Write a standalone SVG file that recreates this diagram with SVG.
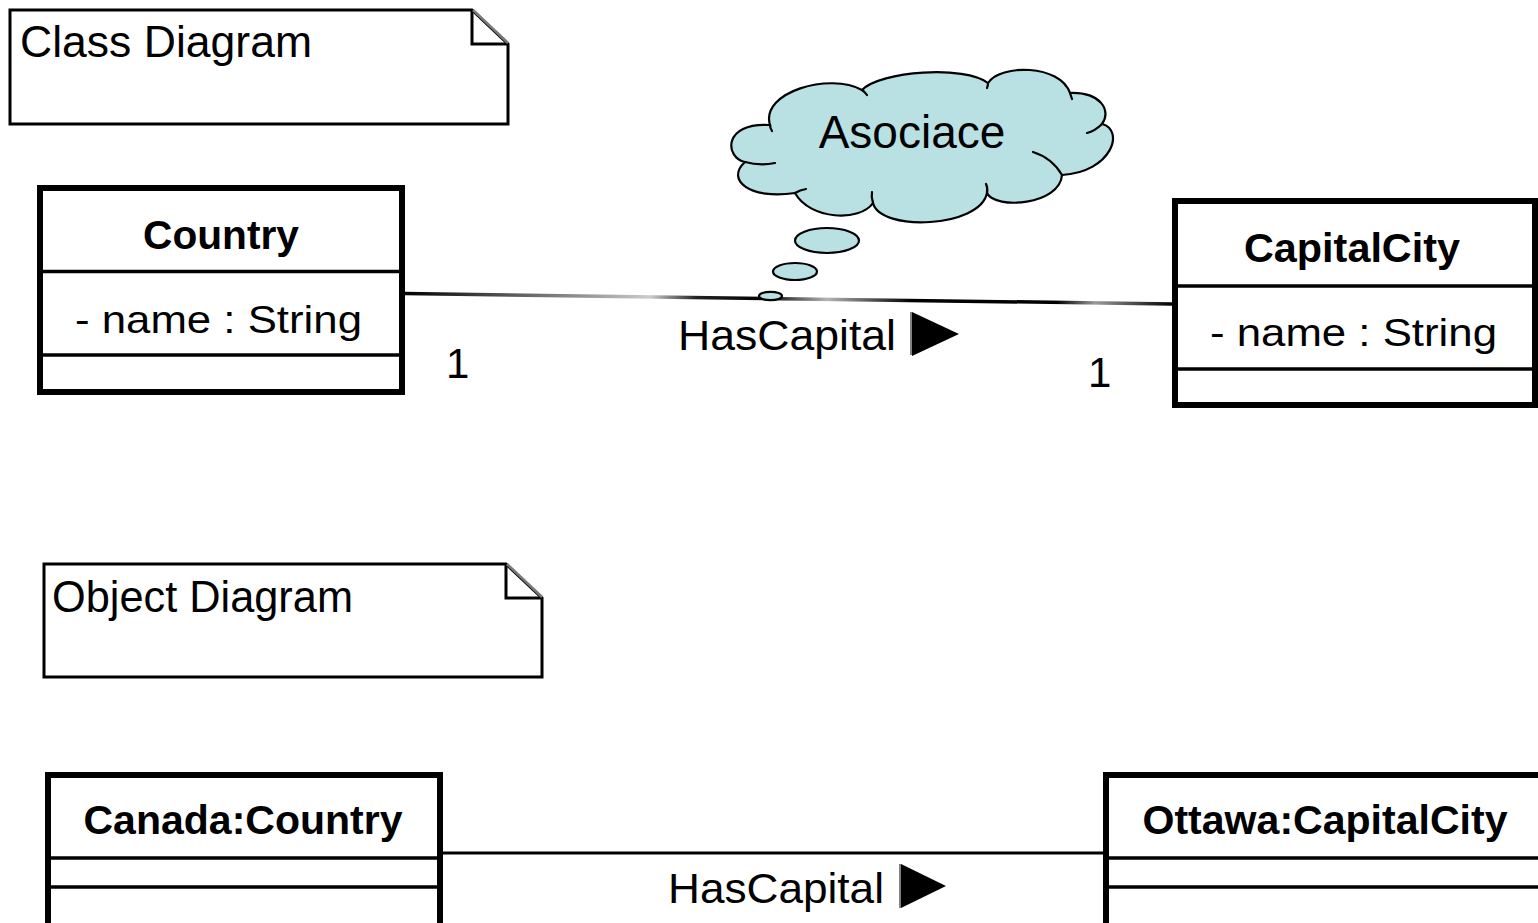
<svg xmlns="http://www.w3.org/2000/svg" width="1538" height="923" viewBox="0 0 1538 923">
  <style>
    .box { fill: #ffffff; stroke: #000000; stroke-width: 6; }
    .sep { stroke: #000000; stroke-width: 3.5; }
    .note { fill: #ffffff; stroke: #000000; stroke-width: 3; stroke-linejoin: miter; }
    .fold { fill: none; stroke: #000000; stroke-width: 3; }
    .diag { stroke: #7a7a7a; stroke-width: 2.5; }
    .t { font-family: "Liberation Sans", Arial, sans-serif; fill: #000000; }
    .title { font-weight: bold; font-size: 40px; text-anchor: middle; }
    .attr { font-size: 39px; }
    .lbl { font-size: 42px; }
    .cloud { fill: #b9e0e3; stroke: #000000; stroke-width: 2.2; }
    .inner { fill: none; stroke: #000000; stroke-width: 2.2; stroke-linecap: round; }
    .tri { fill: #000000; }
    .triedge { stroke: #808080; stroke-width: 2; }
  </style>
  <defs>
    <linearGradient id="assocGrad" gradientUnits="userSpaceOnUse" x1="405" y1="0" x2="1172" y2="0">
      <stop offset="0" stop-color="#000000"/>
      <stop offset="0.32" stop-color="#cccccc"/>
      <stop offset="0.38" stop-color="#222222"/>
      <stop offset="0.47" stop-color="#000000"/>
      <stop offset="0.55" stop-color="#b5b5b5"/>
      <stop offset="0.66" stop-color="#000000"/>
      <stop offset="0.85" stop-color="#000000"/>
      <stop offset="0.9" stop-color="#9a9a9a"/>
      <stop offset="1" stop-color="#000000"/>
    </linearGradient>
  </defs>
  <rect width="1538" height="923" fill="#ffffff"/>

  <!-- Connectors -->
  <g id="connectors">
    <line x1="405" y1="293.5" x2="1172" y2="304" stroke="url(#assocGrad)" stroke-width="3.5"/>
    <line x1="443" y1="853" x2="1103" y2="853" stroke="#000000" stroke-width="3"/>
  </g>

  <!-- Notes -->
  <g id="note-class">
    <path class="note" d="M10,10 H472 L508,44 V124 H10 Z"/>
    <path class="fold" d="M472,10 V44 H508"/>
    <line class="diag" x1="473" y1="10" x2="508" y2="43"/>
    <text class="t" x="20" y="57" font-size="44" textLength="292" lengthAdjust="spacingAndGlyphs">Class Diagram</text>
  </g>
  <g id="note-object">
    <path class="note" d="M44,564 H506 L542,598 V677 H44 Z"/>
    <path class="fold" d="M506,564 V598 H542"/>
    <line class="diag" x1="507" y1="564" x2="542" y2="597"/>
    <text class="t" x="52" y="612" font-size="44" textLength="301" lengthAdjust="spacingAndGlyphs">Object Diagram</text>
  </g>

  <!-- Class diagram nodes -->
  <g id="class-country">
    <rect class="box" x="40" y="188" width="362" height="204"/>
    <line class="sep" x1="40" y1="271.5" x2="402" y2="271.5"/>
    <line class="sep" x1="40" y1="355" x2="402" y2="355"/>
    <text class="t title" x="221" y="249" textLength="156" lengthAdjust="spacingAndGlyphs">Country</text>
    <text class="t attr" x="75" y="333" textLength="287" lengthAdjust="spacingAndGlyphs">- name : String</text>
  </g>
  <g id="class-capitalcity">
    <rect class="box" x="1175" y="201" width="360" height="204"/>
    <line class="sep" x1="1175" y1="286" x2="1535" y2="286"/>
    <line class="sep" x1="1175" y1="369" x2="1535" y2="369"/>
    <text class="t title" x="1352" y="262" textLength="216" lengthAdjust="spacingAndGlyphs">CapitalCity</text>
    <text class="t attr" x="1210" y="346" textLength="287" lengthAdjust="spacingAndGlyphs">- name : String</text>
  </g>

  <!-- Association labels -->
  <g id="assoc-labels">
    <text class="t lbl" x="678" y="350" textLength="218" lengthAdjust="spacingAndGlyphs">HasCapital</text>
    <line class="triedge" x1="911" y1="312" x2="911" y2="355"/>
    <polygon class="tri" points="912,312 912,356 959,334"/>
    <text class="t lbl" x="446" y="378">1</text>
    <text class="t lbl" x="1088" y="387">1</text>
  </g>

  <!-- Thought cloud -->
  <g id="cloud-asociace">
    <path class="cloud" d="M745,162
      C725,158 722,122 770,125
      C760,92 830,72 862,90
      C880,71 965,65 988,83
      C1000,64 1060,64 1070,93
      C1100,92 1112,110 1102,124
      C1125,130 1112,172 1062,175
      C1060,205 995,210 987,193
      C980,228 880,232 873,203
      C860,222 810,220 795,193
      C750,200 725,180 745,162 Z"/>
    <path class="inner" d="M745,162 Q760,166 775,163"/>
    <path class="inner" d="M795,193 Q800,190 806,189"/>
    <path class="inner" d="M873,203 Q871,197 872,192"/>
    <path class="inner" d="M987,193 Q988,188 986,184"/>
    <path class="inner" d="M1062,175 Q1052,158 1033,152"/>
    <path class="inner" d="M1102,124 Q1095,131 1087,133"/>
    <path class="inner" d="M862,90 Q865,92 867,95"/>
    <path class="inner" d="M988,83 Q988,86 987,88"/>
    <path class="inner" d="M1070,93 Q1071,96 1072,99"/>
    <path class="inner" d="M770,125 Q770,128 772,131"/>
    <text x="912" y="148" font-family="Liberation Sans, Arial, sans-serif" font-size="46" text-anchor="middle" fill="#000000">Asociace</text>
    <ellipse class="cloud" cx="827" cy="240.5" rx="32" ry="12.5"/>
    <ellipse class="cloud" cx="795" cy="271.5" rx="22" ry="8.5"/>
    <ellipse class="cloud" cx="770.5" cy="296" rx="11.5" ry="4.2"/>
  </g>

  <!-- Object diagram nodes -->
  <g id="object-canada">
    <rect class="box" x="48" y="775" width="392" height="200"/>
    <line class="sep" x1="48" y1="858" x2="440" y2="858"/>
    <line class="sep" x1="48" y1="887" x2="440" y2="887"/>
    <text class="t title" x="243" y="834" textLength="319" lengthAdjust="spacingAndGlyphs">Canada:Country</text>
  </g>
  <g id="object-ottawa">
    <rect class="box" x="1106" y="775" width="500" height="200"/>
    <line class="sep" x1="1106" y1="858" x2="1606" y2="858"/>
    <line class="sep" x1="1106" y1="887" x2="1606" y2="887"/>
    <text class="t title" x="1325" y="834" textLength="365" lengthAdjust="spacingAndGlyphs">Ottawa:CapitalCity</text>
  </g>

  <g id="link-label">
    <text class="t lbl" x="668" y="903" textLength="216" lengthAdjust="spacingAndGlyphs">HasCapital</text>
    <line class="triedge" x1="900" y1="864" x2="900" y2="908"/>
    <polygon class="tri" points="901,864 901,908 946,886"/>
  </g>
</svg>
